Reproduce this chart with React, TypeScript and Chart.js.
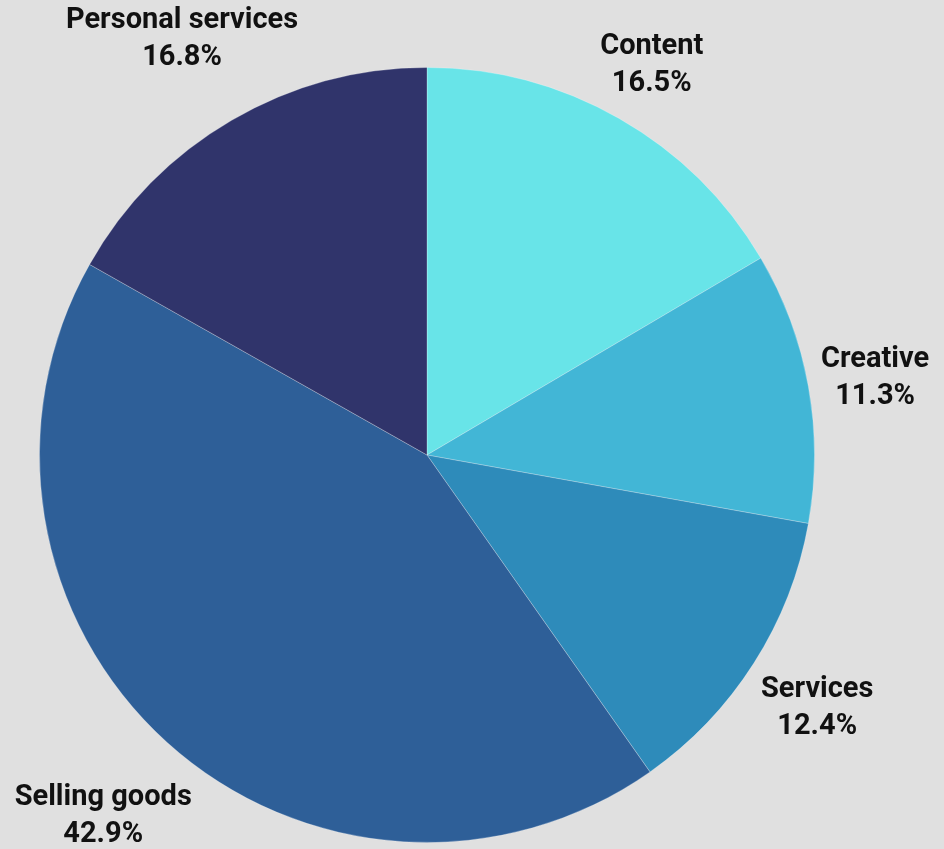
import React, { useEffect, useRef } from "react";
import { Chart, registerables } from "chart.js";

Chart.register(...registerables);

const categories = ["Content", "Creative", "Services", "Selling goods", "Personal services"];
const shares = [16.5, 11.3, 12.4, 42.9, 16.8];
const shareLabels = ["16.5%", "11.3%", "12.4%", "42.9%", "16.8%"];
const colors = ["#68e4e8", "#42b6d6", "#2e8bba", "#2e5f98", "#30346b"];

const FONT = "bold 29px Roboto, 'Noto Sans', sans-serif";
const LINE_H = 37;
const BASELINE_NUDGE = 4;

const outsideLabels = {
  id: "outsideLabels",
  afterDatasetsDraw(chart: any) {
    const ctx = chart.ctx as CanvasRenderingContext2D;
    const meta = chart.getDatasetMeta(0);
    ctx.save();
    ctx.font = FONT;
    ctx.fillStyle = "#111111";
    ctx.textAlign = "center";
    ctx.textBaseline = "middle";
    meta.data.forEach((arc: any, i: number) => {
      const { x, y, startAngle, endAngle, outerRadius } = arc.getProps(
        ["x", "y", "startAngle", "endAngle", "outerRadius"],
        true
      );
      const mid = (startAngle + endAngle) / 2;
      const c = Math.cos(mid);
      const s = Math.sin(mid);
      const l1 = categories[i];
      const l2 = shareLabels[i];
      const w = Math.max(ctx.measureText(l1).width, ctx.measureText(l2).width);
      const h = LINE_H * 2;
      const r = outerRadius + 8 + Math.abs(c) * w / 2 + Math.abs(s) * h / 2;
      const cx = x + c * r;
      const cy = y + s * r + BASELINE_NUDGE;
      ctx.fillText(l1, cx, cy - LINE_H / 2);
      ctx.fillText(l2, cx, cy + LINE_H / 2);
    });
    ctx.restore();
  },
};

export default function App() {
  const ref = useRef<HTMLCanvasElement | null>(null);
  useEffect(() => {
    if (!ref.current) return;
    const chart = new Chart(ref.current, {
      type: "pie",
      data: {
        labels: categories,
        datasets: [
          {
            data: shares,
            backgroundColor: colors,
            borderColor: "rgba(255,255,255,0.25)",
            borderWidth: 1,
          },
        ],
      },
      options: {
        animation: false,
        responsive: true,
        maintainAspectRatio: false,
        layout: { padding: { left: 39, right: 129, top: 67, bottom: 6 } },
        plugins: {
          legend: { display: false },
          tooltip: { enabled: false },
        },
      },
      plugins: [outsideLabels],
    });
    return () => chart.destroy();
  }, []);
  return (
    <div
      style={{
        position: "absolute",
        left: 0,
        top: 0,
        width: 944,
        height: 849,
        background: "#e0e0e0",
        overflow: "hidden",
      }}
    >
      <canvas ref={ref} />
    </div>
  );
}
